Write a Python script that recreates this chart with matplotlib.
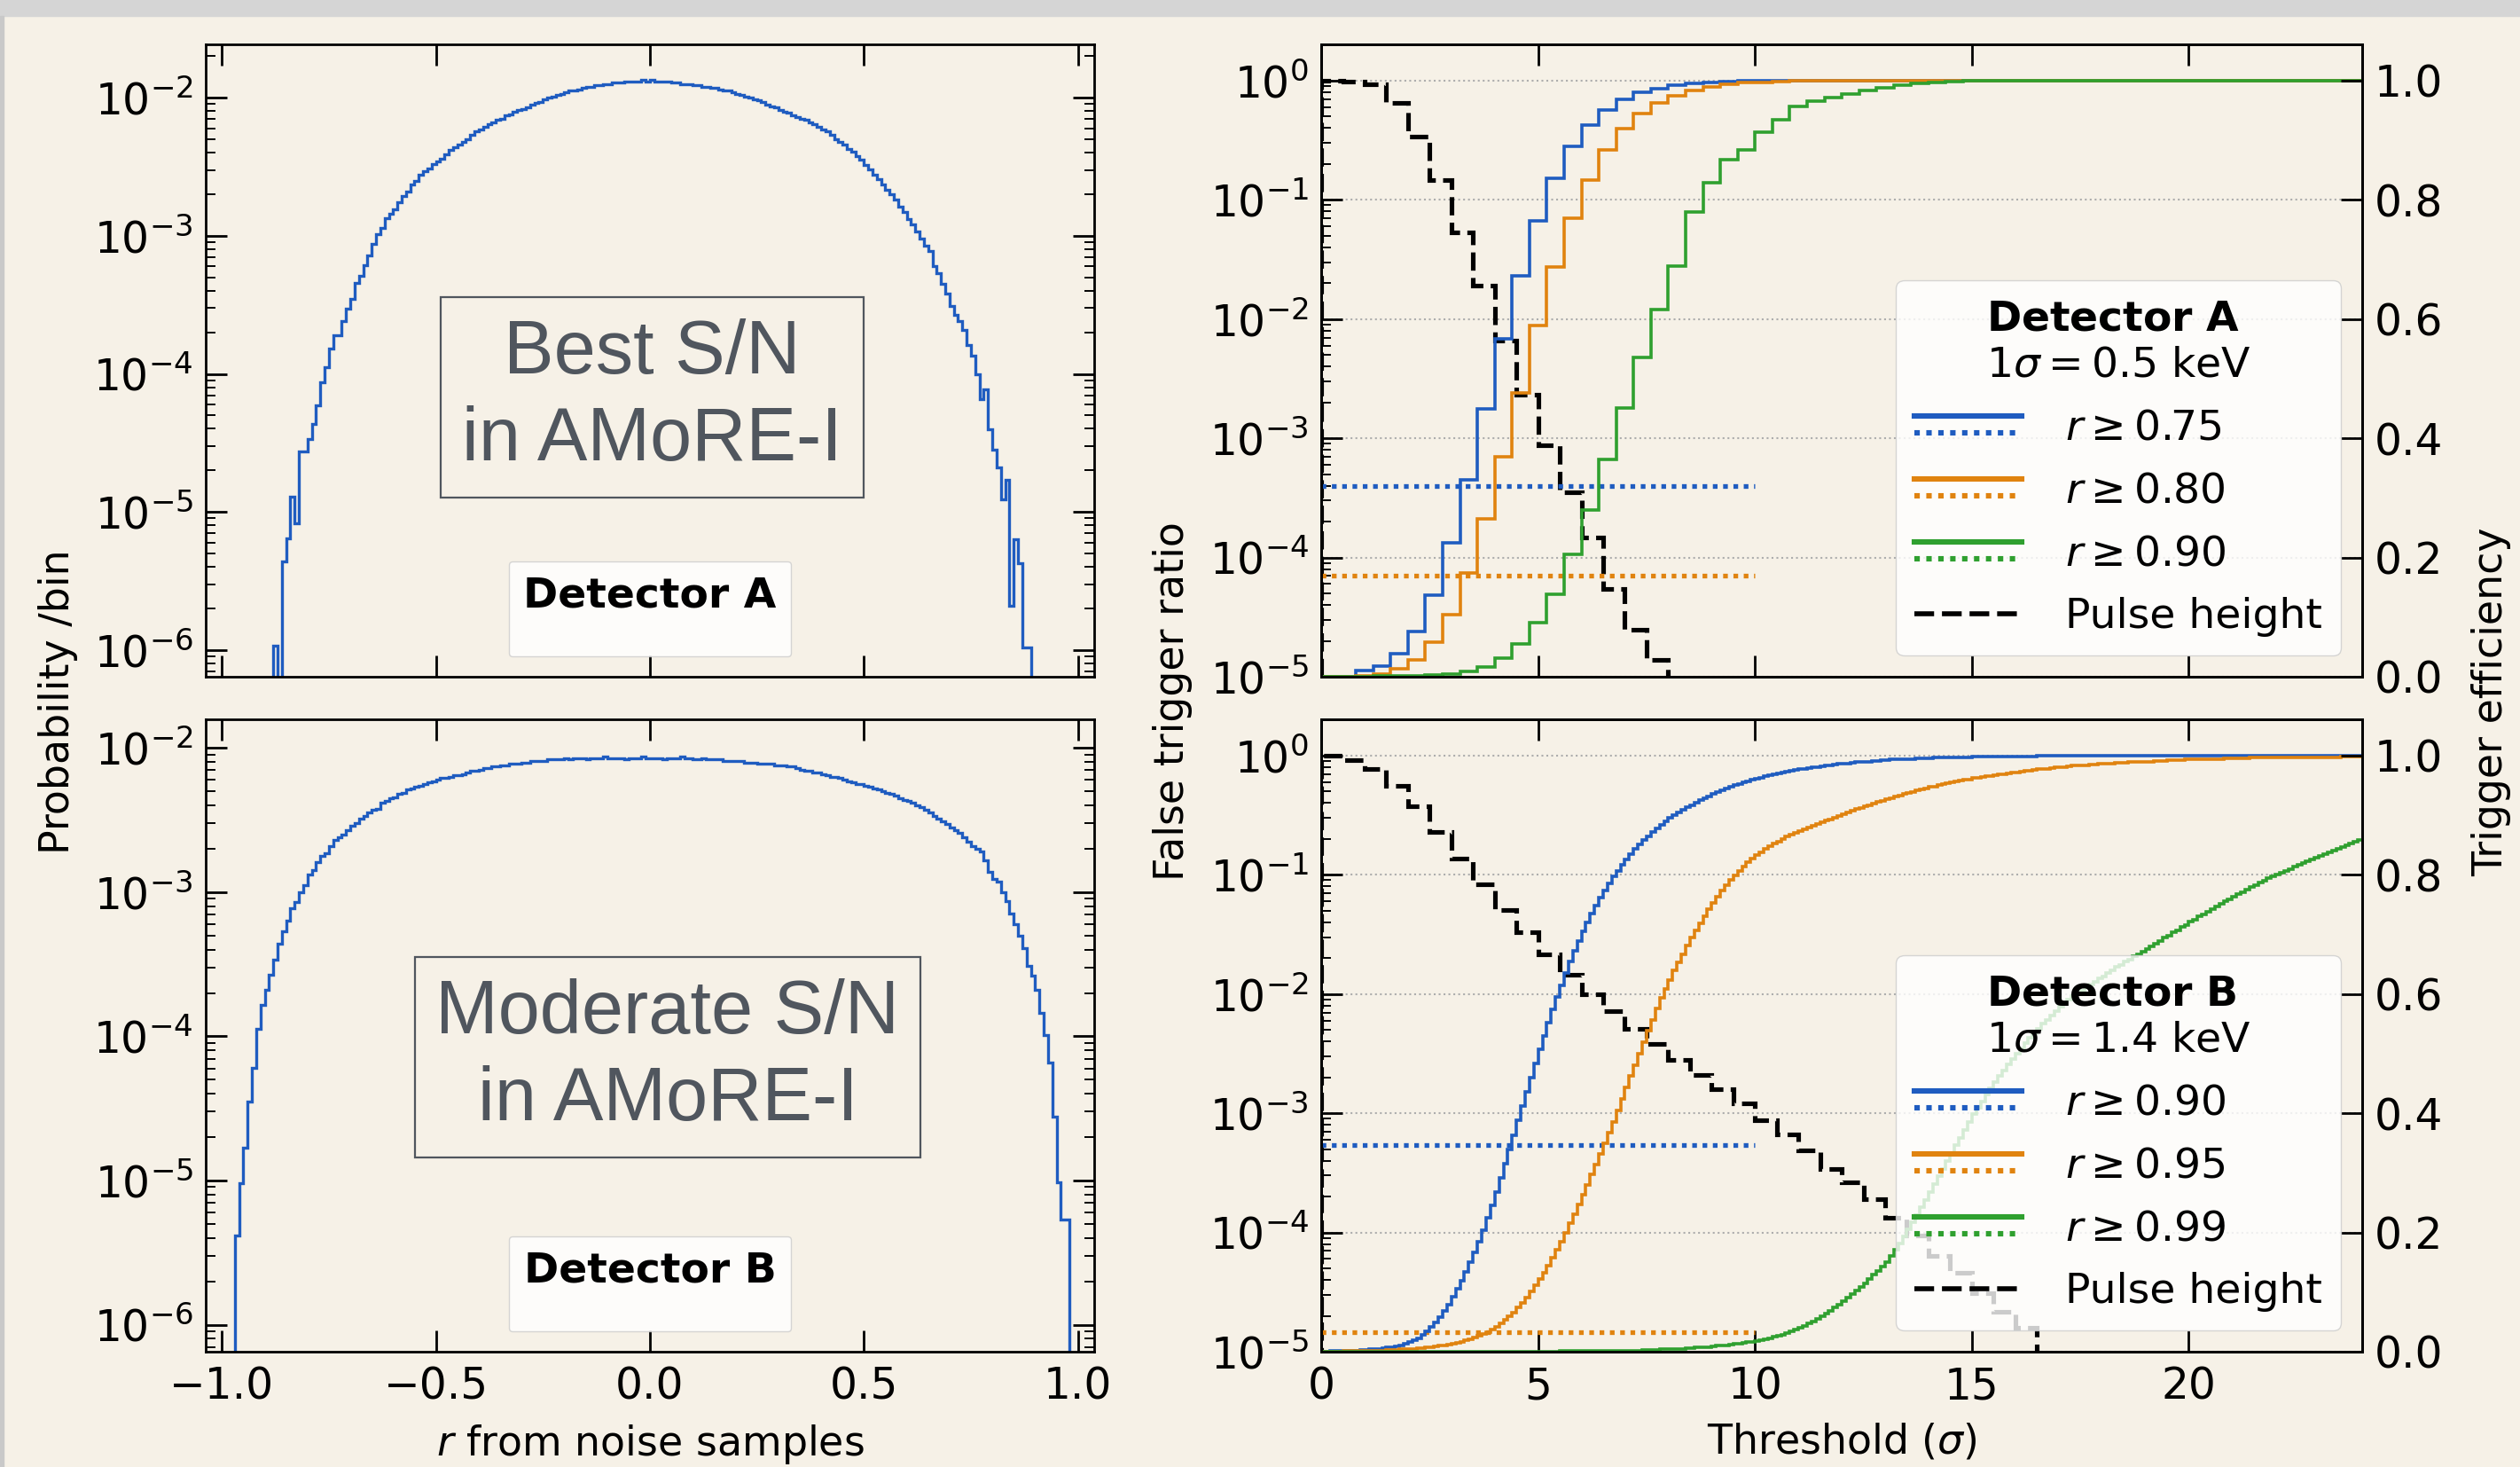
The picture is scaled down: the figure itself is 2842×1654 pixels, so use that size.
import numpy as np
import matplotlib
matplotlib.use('Agg')
import matplotlib.pyplot as plt
from matplotlib.lines import Line2D
from matplotlib.legend_handler import HandlerBase
from matplotlib.patches import Rectangle
from matplotlib.ticker import LogLocator, NullFormatter

plt.rcParams['font.family'] = 'DejaVu Sans'
plt.rcParams['mathtext.fontset'] = 'dejavusans'

# ---- r distributions from noise samples (log10 of probability per bin, bin width 0.01) ----
det_a_r_start = -0.88
det_a_log_p = [
    -5.97, -np.inf, -5.36, -5.19, -4.89, -5.08, -4.56, -4.56, -4.47, -4.36,
    -4.23, -4.06, -3.95, -3.82, -3.72, -3.72, -3.62, -3.53, -3.46, -3.34,
    -3.29, -3.21, -3.14, -3.06, -2.99, -2.94, -2.87, -2.84, -2.81, -2.76,
    -2.71, -2.68, -2.63, -2.60, -2.56, -2.53, -2.51, -2.48, -2.46, -2.44,
    -2.41, -2.38, -2.36, -2.34, -2.32, -2.30, -2.27, -2.24, -2.23, -2.21,
    -2.19, -2.18, -2.16, -2.15, -2.13, -2.12, -2.10, -2.09, -2.08, -2.07,
    -2.05, -2.04, -2.03, -2.01, -2.00, -1.99, -1.98, -1.97, -1.96, -1.95,
    -1.95, -1.94, -1.93, -1.92, -1.92, -1.91, -1.91, -1.90, -1.90, -1.89,
    -1.89, -1.89, -1.88, -1.88, -1.88, -1.88, -1.87, -1.88, -1.87, -1.88,
    -1.88, -1.88, -1.88, -1.89, -1.89, -1.90, -1.90, -1.90, -1.91, -1.91,
    -1.92, -1.92, -1.93, -1.93, -1.94, -1.95, -1.95, -1.96, -1.97, -1.98,
    -1.99, -2.00, -2.01, -2.02, -2.03, -2.05, -2.06, -2.07, -2.09, -2.10,
    -2.11, -2.13, -2.14, -2.15, -2.16, -2.18, -2.19, -2.21, -2.23, -2.24,
    -2.27, -2.30, -2.32, -2.34, -2.37, -2.39, -2.42, -2.45, -2.49, -2.52,
    -2.56, -2.59, -2.63, -2.67, -2.70, -2.74, -2.79, -2.83, -2.88, -2.92,
    -2.97, -3.02, -3.07, -3.11, -3.22, -3.27, -3.35, -3.42, -3.51, -3.57,
    -3.62, -3.68, -3.79, -3.87, -4.00, -4.18, -4.11, -4.40, -4.55, -4.68,
    -4.91, -4.77, -5.68, -5.20, -5.37, -5.98, -5.98,
]

det_b_r_start = -0.97
det_b_log_p = [
    -5.38, -5.02, -4.77, -4.45, -4.22, -3.95, -3.78, -3.68, -3.57, -3.47,
    -3.36, -3.27, -3.20, -3.11, -3.07, -3.00, -2.95, -2.88, -2.85, -2.79,
    -2.75, -2.73, -2.68, -2.64, -2.62, -2.60, -2.57, -2.54, -2.52, -2.49,
    -2.47, -2.45, -2.43, -2.42, -2.38, -2.37, -2.35, -2.34, -2.32, -2.31,
    -2.29, -2.28, -2.27, -2.26, -2.25, -2.24, -2.23, -2.22, -2.21, -2.21,
    -2.20, -2.19, -2.19, -2.18, -2.17, -2.16, -2.16, -2.15, -2.14, -2.14,
    -2.13, -2.13, -2.12, -2.12, -2.11, -2.11, -2.11, -2.10, -2.10, -2.09,
    -2.09, -2.09, -2.09, -2.08, -2.08, -2.08, -2.08, -2.07, -2.08, -2.07,
    -2.07, -2.07, -2.08, -2.07, -2.07, -2.07, -2.06, -2.07, -2.07, -2.07,
    -2.07, -2.08, -2.07, -2.07, -2.07, -2.06, -2.07, -2.07, -2.07, -2.07,
    -2.08, -2.07, -2.07, -2.07, -2.06, -2.07, -2.07, -2.08, -2.08, -2.07,
    -2.08, -2.08, -2.08, -2.08, -2.09, -2.09, -2.09, -2.09, -2.09, -2.10,
    -2.10, -2.10, -2.11, -2.11, -2.11, -2.11, -2.12, -2.12, -2.12, -2.13,
    -2.13, -2.14, -2.15, -2.16, -2.16, -2.17, -2.17, -2.18, -2.19, -2.20,
    -2.20, -2.21, -2.22, -2.23, -2.24, -2.25, -2.25, -2.26, -2.27, -2.28,
    -2.29, -2.30, -2.31, -2.32, -2.33, -2.35, -2.36, -2.37, -2.38, -2.40,
    -2.41, -2.43, -2.45, -2.47, -2.49, -2.51, -2.53, -2.55, -2.57, -2.59,
    -2.62, -2.65, -2.68, -2.70, -2.72, -2.78, -2.86, -2.91, -2.93, -3.00,
    -3.06, -3.15, -3.22, -3.30, -3.39, -3.51, -3.58, -3.68, -3.84, -3.99,
    -4.18, -4.56, -5.01, -5.27, -5.27,
]

# ---- Detector A: trigger efficiency vs threshold (bin width 0.4 sigma) ----
eff_a_bin = 0.4
eff_a_075 = [0.0, 0.0, 0.011, 0.018, 0.038, 0.076, 0.137, 0.224, 0.330, 0.449,
             0.567, 0.673, 0.765, 0.836, 0.889, 0.926, 0.951, 0.969, 0.980, 0.987,
             0.992, 0.995, 0.997, 0.998, 0.999] + [1.0] * 35
eff_a_080 = [0.0, 0.0, 0.002, 0.005, 0.014, 0.028, 0.058, 0.104, 0.174, 0.265,
             0.369, 0.476, 0.589, 0.687, 0.769, 0.833, 0.883, 0.919, 0.944, 0.962,
             0.975, 0.983, 0.989, 0.993, 0.996, 0.997, 0.998, 0.999, 0.999] + [1.0] * 31
eff_a_090 = [0.0, 0.0, 0.0, 0.001, 0.001, 0.002, 0.003, 0.005, 0.009, 0.016,
             0.031, 0.055, 0.091, 0.139, 0.205, 0.280, 0.364, 0.451, 0.536, 0.616,
             0.689, 0.780, 0.828, 0.867, 0.883, 0.913, 0.934, 0.956, 0.966, 0.971,
             0.978, 0.983, 0.988, 0.992, 0.995, 0.997, 0.998, 0.999] + [1.0] * 22

# false trigger ratio of the pulse-height trigger (log10, bin width 0.5 sigma)
ph_bin = 0.5
ph_a_log = [0.0, -0.005, -0.031, -0.188, -0.468, -0.833, -1.27, -1.72,
            -2.181, -2.635, -3.061, -3.454, -3.829, -4.263, -4.604, -4.86]
ph_b_log = [0.0, -0.039, -0.115, -0.251, -0.422, -0.644, -0.867, -1.082,
            -1.294, -1.482, -1.670, -1.841, -2.005, -2.142, -2.292, -2.422,
            -2.552, -2.679, -2.798, -2.918, -3.055, -3.181, -3.311, -3.465,
            -3.578, -3.721, -3.875, -4.029, -4.200, -4.337, -4.508, -4.662, -4.798]

# false trigger ratio of the r cut, drawn up to 10 sigma
ftr_span = [0, 10]
ftr_a = {'0.75': 3.95e-4, '0.80': 7.0e-5}
ftr_b = {'0.90': 5.4e-4, '0.95': 1.46e-5}

# ---- Detector B: trigger efficiency vs threshold (bin width 0.1 sigma) ----
eff_b_bin = 0.1
eff_b_090 = [
    0.000, 0.000, 0.001, 0.001, 0.001, 0.001, 0.002, 0.002, 0.002, 0.003,
    0.003, 0.004, 0.004, 0.005, 0.006, 0.007, 0.008, 0.009, 0.011, 0.013,
    0.016, 0.019, 0.023, 0.028, 0.034, 0.041, 0.049, 0.058, 0.068, 0.079,
    0.092, 0.105, 0.119, 0.134, 0.150, 0.167, 0.185, 0.204, 0.224, 0.246,
    0.268, 0.291, 0.315, 0.339, 0.363, 0.388, 0.412, 0.436, 0.460, 0.484,
    0.507, 0.530, 0.552, 0.574, 0.595, 0.615, 0.635, 0.654, 0.672, 0.689,
    0.705, 0.720, 0.735, 0.749, 0.762, 0.774, 0.786, 0.797, 0.807, 0.817,
    0.826, 0.835, 0.843, 0.851, 0.858, 0.865, 0.872, 0.878, 0.884, 0.890,
    0.895, 0.900, 0.905, 0.909, 0.913, 0.917, 0.921, 0.925, 0.928, 0.931,
    0.936, 0.939, 0.942, 0.945, 0.948, 0.950, 0.952, 0.955, 0.957, 0.959,
    0.961, 0.963, 0.965, 0.967, 0.969, 0.970, 0.972, 0.973, 0.975, 0.976,
    0.977, 0.978, 0.979, 0.980, 0.981, 0.982, 0.983, 0.984, 0.985, 0.986,
    0.987, 0.987, 0.988, 0.989, 0.989, 0.990, 0.990, 0.991, 0.991, 0.992,
    0.992, 0.993, 0.993, 0.993, 0.994, 0.994, 0.994, 0.995, 0.995, 0.995,
    0.995, 0.996, 0.996, 0.996, 0.996, 0.997, 0.997, 0.997, 0.997, 0.997,
    0.998, 0.998, 0.998, 0.998, 0.998, 0.998, 0.998, 0.998, 0.998, 0.998,
    0.998, 0.998, 0.998, 0.998, 0.998, 0.999, 0.999, 0.999, 0.999, 0.999,
] + [0.999] * 10 + [1.0] * 60
eff_b_095 = [
    0.000, 0.000, 0.000, 0.000, 0.000, 0.001, 0.001, 0.001, 0.001, 0.001,
    0.001, 0.002, 0.002, 0.002, 0.002, 0.003, 0.003, 0.003, 0.004, 0.004,
    0.005, 0.005, 0.006, 0.006, 0.007, 0.008, 0.009, 0.010, 0.011, 0.012,
    0.013, 0.015, 0.017, 0.019, 0.021, 0.024, 0.027, 0.030, 0.033, 0.037,
    0.042, 0.047, 0.053, 0.059, 0.066, 0.074, 0.082, 0.091, 0.101, 0.111,
    0.122, 0.133, 0.145, 0.158, 0.171, 0.185, 0.200, 0.215, 0.231, 0.247,
    0.263, 0.280, 0.297, 0.314, 0.331, 0.349, 0.367, 0.385, 0.405, 0.424,
    0.443, 0.462, 0.481, 0.500, 0.519, 0.538, 0.557, 0.576, 0.594, 0.609,
    0.624, 0.639, 0.653, 0.667, 0.681, 0.694, 0.707, 0.719, 0.731, 0.742,
    0.753, 0.763, 0.773, 0.782, 0.791, 0.799, 0.807, 0.814, 0.821, 0.827,
    0.833, 0.838, 0.843, 0.848, 0.852, 0.856, 0.860, 0.864, 0.867, 0.870,
    0.873, 0.876, 0.879, 0.882, 0.885, 0.888, 0.891, 0.893, 0.896, 0.899,
    0.901, 0.904, 0.907, 0.910, 0.912, 0.915, 0.917, 0.920, 0.922, 0.924,
    0.927, 0.929, 0.931, 0.933, 0.935, 0.937, 0.939, 0.941, 0.943, 0.945,
    0.947, 0.948, 0.950, 0.952, 0.953, 0.955, 0.956, 0.958, 0.959, 0.960,
    0.962, 0.963, 0.964, 0.965, 0.966, 0.967, 0.968, 0.969, 0.970, 0.971,
    0.972, 0.973, 0.974, 0.975, 0.976, 0.977, 0.978, 0.978, 0.979, 0.980,
    0.981, 0.981, 0.982, 0.983, 0.983, 0.984, 0.984, 0.985, 0.985, 0.986,
    0.986, 0.987, 0.987, 0.988, 0.988, 0.988, 0.989, 0.989, 0.989, 0.990,
    0.990, 0.990, 0.991, 0.991, 0.991, 0.992, 0.992, 0.992, 0.992, 0.993,
    0.993, 0.993, 0.993, 0.994, 0.994, 0.994, 0.994, 0.994, 0.995, 0.995,
    0.995, 0.995, 0.995, 0.995, 0.996, 0.996, 0.996, 0.996, 0.996, 0.996,
    0.996, 0.997, 0.997, 0.997, 0.997, 0.997, 0.997, 0.997, 0.997, 0.997,
    0.997, 0.997, 0.997, 0.997, 0.997, 0.998, 0.998, 0.998, 0.998, 0.998,
]
eff_b_099 = [0.0] * 55 + [0.001] * 15 + [
    0.002, 0.002, 0.002, 0.002, 0.003, 0.003, 0.003, 0.003, 0.004, 0.004,
    0.004, 0.005, 0.005, 0.005, 0.006, 0.006, 0.007, 0.007, 0.008, 0.008,
    0.009, 0.010, 0.010, 0.011, 0.012, 0.013, 0.014, 0.015, 0.016, 0.017,
    0.018, 0.020, 0.021, 0.023, 0.025, 0.027, 0.029, 0.031, 0.034, 0.037,
    0.040, 0.043, 0.047, 0.051, 0.055, 0.059, 0.064, 0.069, 0.074, 0.079,
    0.085, 0.090, 0.096, 0.102, 0.108, 0.115, 0.122, 0.129, 0.136, 0.143,
    0.150, 0.160, 0.171, 0.182, 0.193, 0.205, 0.217, 0.229, 0.242, 0.255,
    0.268, 0.281, 0.294, 0.307, 0.320, 0.333, 0.346, 0.359, 0.372, 0.385,
    0.398, 0.409, 0.420, 0.431, 0.442, 0.452, 0.462, 0.472, 0.482, 0.491,
    0.500, 0.509, 0.518, 0.526, 0.534, 0.542, 0.550, 0.557, 0.564, 0.571,
    0.578, 0.584, 0.590, 0.596, 0.601, 0.606, 0.611, 0.616, 0.621, 0.626,
    0.630, 0.635, 0.640, 0.645, 0.649, 0.654, 0.658, 0.663, 0.667, 0.671,
    0.676, 0.680, 0.685, 0.689, 0.694, 0.698, 0.703, 0.707, 0.712, 0.716,
    0.721, 0.725, 0.730, 0.734, 0.738, 0.743, 0.747, 0.751, 0.755, 0.759,
    0.763, 0.767, 0.771, 0.775, 0.779, 0.783, 0.787, 0.790, 0.794, 0.797,
    0.800, 0.804, 0.807, 0.810, 0.814, 0.817, 0.820, 0.823, 0.826, 0.829,
    0.832, 0.835, 0.838, 0.841, 0.844, 0.847, 0.850, 0.853, 0.856, 0.859,
]

BLUE = '#1f5cc0'
ORANGE = '#e0830f'
GREEN = '#2fa02f'
BG = '#f6f1e7'
BOXGRAY = '#50565e'
TICK_FS = 35
LABEL_FS = 33
LEG_FS = 34


class SolidDottedHandler(HandlerBase):
    # solid line above a dotted line, as in the original legend
    def create_artists(self, legend, orig_handle, xdescent, ydescent,
                       width, height, fontsize, trans):
        solid, dotted = orig_handle
        ymid = (height - ydescent) / 2
        off = 0.2 * fontsize
        xs = [-xdescent, width - xdescent]
        a = Line2D(xs, [ymid + off] * 2)
        a.update_from(solid)
        b = Line2D(xs, [ymid - off] * 2)
        b.update_from(dotted)
        for ln in (a, b):
            ln.set_transform(trans)
        return [a, b]


fig = plt.figure(figsize=(28.42, 16.54), dpi=100, facecolor=BG)

left_x, left_w = 0.0816, 0.3526
right_x, right_w = 0.5243, 0.4131
top_y, bot_y, h = 0.5387, 0.0786, 0.4308

ax_la = fig.add_axes([left_x, top_y, left_w, h])
ax_lb = fig.add_axes([left_x, bot_y, left_w, h])
ax_ra = fig.add_axes([right_x, top_y, right_w, h])
ax_rb = fig.add_axes([right_x, bot_y, right_w, h])

DOT = (0, (1, 1.2))
DASH = (0, (4.0, 1.6))


def style_axes(ax):
    ax.set_facecolor('none')
    for s in ax.spines.values():
        s.set_linewidth(2)
    ax.tick_params(which='major', direction='in', length=17, width=2,
                   labelsize=TICK_FS, pad=10)
    ax.tick_params(which='minor', direction='in', length=8, width=1.4)
    ax.tick_params(axis='x', which='major', pad=11)


# ---------------- left panels: r histograms ----------------
for ax, start, logp, ylim, name, txt, txt_xy in [
        (ax_la, det_a_r_start, det_a_log_p, (6.4e-7, 2.42e-2), 'Detector A',
         'Best S/N\nin AMoRE-I', (0.5025, 0.442)),
        (ax_lb, det_b_r_start, det_b_log_p, (6.5e-7, 1.57e-2), 'Detector B',
         'Moderate S/N\nin AMoRE-I', (0.520, 0.466))]:
    vals = np.power(10.0, np.array(logp))
    edges = np.round(start + 0.01 * np.arange(len(vals) + 1), 4)
    ax.stairs(vals, edges, baseline=1e-12, color=BLUE, lw=2.4)
    ax.set_yscale('log')
    ax.set_xlim(-1.038, 1.038)
    ax.set_ylim(*ylim)
    ax.set_xticks([-1.0, -0.5, 0.0, 0.5, 1.0])
    ax.yaxis.set_major_locator(LogLocator(base=10, numticks=20))
    ax.yaxis.set_minor_locator(LogLocator(base=10, subs=np.arange(2, 10), numticks=20))
    ax.yaxis.set_minor_formatter(NullFormatter())
    style_axes(ax)
    ax.tick_params(which='both', top=True, right=True)
    ax.text(txt_xy[0], txt_xy[1], txt, transform=ax.transAxes, ha='center',
            va='center', fontsize=61, family='Liberation Sans', color=BOXGRAY,
            linespacing=1.3,
            bbox=dict(boxstyle='square,pad=0.28', fc='none', ec=BOXGRAY, lw=1.6))
    ax.legend(handles=[Line2D([], [], alpha=0)], labels=[''], title=name,
              loc='lower center', fontsize=14,
              title_fontproperties={'weight': 'bold', 'size': LEG_FS},
              facecolor='white', framealpha=0.8, edgecolor='0.8',
              borderpad=0.85, handlelength=1.0, borderaxespad=1.2)

ax_la.tick_params(axis='x', labelbottom=False)
ax_lb.set_xlabel(r'$r$ from noise samples', fontsize=LABEL_FS, labelpad=12)

# ---------------- right panels: efficiency and false trigger ratio ----------------
panels = [
    (ax_ra, eff_a_bin, [('0.75', eff_a_075, BLUE), ('0.80', eff_a_080, ORANGE),
                        ('0.90', eff_a_090, GREEN)], ph_a_log, ftr_a,
     r'$\bf{Detector\ A}$' + '\n' + r'$1\sigma = 0.5$ keV'),
    (ax_rb, eff_b_bin, [('0.90', eff_b_090, BLUE), ('0.95', eff_b_095, ORANGE),
                        ('0.99', eff_b_099, GREEN)], ph_b_log, ftr_b,
     r'$\bf{Detector\ B}$' + '\n' + r'$1\sigma = 1.4$ keV'),
]

for ax, ebin, curves, ph_log, ftr, title in panels:
    ax.set_yscale('log')
    ax.set_xlim(0, 24)
    ax.set_ylim(1e-5, 2.0)
    ax.yaxis.set_major_locator(LogLocator(base=10, numticks=20))
    ax.yaxis.set_minor_locator(LogLocator(base=10, subs=np.arange(2, 10), numticks=20))
    ax.yaxis.set_minor_formatter(NullFormatter())
    ax.set_xticks([0, 5, 10, 15, 20])
    ax.grid(axis='y', which='major', ls=':', color='0.68', lw=1.5)
    ax.set_axisbelow(True)
    style_axes(ax)
    ax.tick_params(axis='x', which='both', top=True)
    ax.tick_params(axis='y', which='both', right=False)

    ph_vals = np.power(10.0, np.array(ph_log))
    ph_edges = ph_bin * np.arange(len(ph_vals) + 1)
    ax.stairs(ph_vals, ph_edges, baseline=1e-12, color='black', lw=3.7, ls=DASH)

    for key, _, col in curves:
        if key in ftr:
            ax.hlines(ftr[key], ftr_span[0], ftr_span[1], colors=col, lw=3.8,
                      linestyles=DOT)

    ax2 = ax.twinx()
    ax2.set_ylim(0, 1.06)
    ax2.set_yticks([0.0, 0.2, 0.4, 0.6, 0.8, 1.0])
    for s in ax2.spines.values():
        s.set_linewidth(2)
    ax2.tick_params(axis='y', direction='in', length=17, width=2,
                    labelsize=TICK_FS, pad=10)
    handles, labels = [], []
    for key, eff, col in curves:
        vals = np.array(eff)
        edges = ebin * np.arange(len(vals) + 1)
        ax2.stairs(vals, edges, baseline=None, color=col, lw=2.6)
        handles.append((Line2D([], [], color=col, lw=4.4),
                        Line2D([], [], color=col, lw=4.4, ls=DOT)))
        labels.append(r'$r \geq %s$' % key)
    handles.append(Line2D([], [], color='black', lw=4.0, ls=DASH))
    labels.append('Pulse height')
    ax2.legend(handles=handles, labels=labels, title=title, loc='lower right',
               handler_map={tuple: SolidDottedHandler()}, fontsize=LEG_FS,
               title_fontsize=LEG_FS, handlelength=2.55, handletextpad=1.05,
               borderpad=0.45, labelspacing=0.55, facecolor='white',
               framealpha=0.8, edgecolor='0.8')

ax_ra.tick_params(axis='x', labelbottom=False)
ax_rb.set_xlabel(r'Threshold ($\sigma$)', fontsize=LABEL_FS, labelpad=12)

fig.text(0.0229, 0.5218, 'Probability /bin', rotation=90, ha='center', va='center',
         fontsize=LABEL_FS)
fig.text(0.4652, 0.5218, 'False trigger ratio', rotation=90, ha='center', va='center',
         fontsize=LABEL_FS)
fig.text(0.9887, 0.5218, 'Trigger efficiency', rotation=90, ha='center', va='center',
         fontsize=LABEL_FS)

# screenshot frame: grey strip on top, thin grey edge on the left
fig.add_artist(Rectangle((0, 1 - 18 / 1654), 1, 18 / 1654, transform=fig.transFigure,
                         color='#d5d5d5', zorder=10))
fig.add_artist(Rectangle((0, 0), 4 / 2842, 1 - 18 / 1654, transform=fig.transFigure,
                         color='#c9c9c9', zorder=10))

fig.savefig('out.png', dpi=100, facecolor=BG)
